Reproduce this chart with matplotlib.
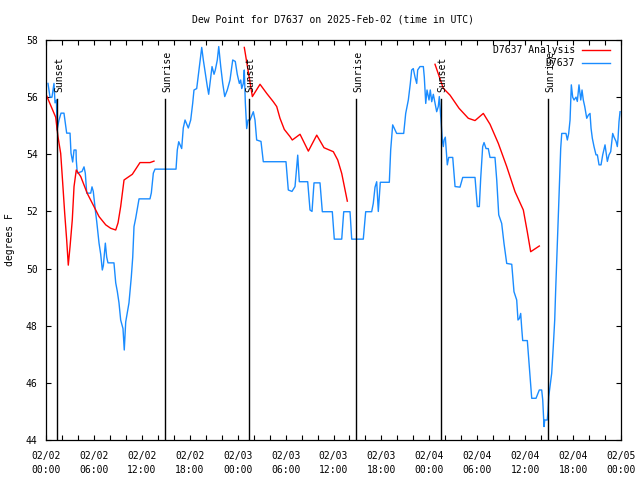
import matplotlib
matplotlib.use("Agg")
import matplotlib.pyplot as plt
from matplotlib.ticker import MultipleLocator, FixedLocator
from matplotlib.lines import Line2D

# ---- data (hours since 2025-02-02 00:00 UTC, dew point in F) ----
obs_hours = [0.25, 0.50, 0.75, 1.00, 1.13, 1.31, 1.38, 1.63, 1.88, 2.25, 2.34, 2.59, 3.01, 3.13, 3.34,
             3.51, 3.76, 3.79, 3.92, 4.51, 4.76, 4.92, 5.10, 5.60, 5.76, 5.92, 6.22, 6.35, 6.64, 6.85,
             7.05, 7.18, 7.43, 7.60, 7.76, 8.51, 8.73, 8.93, 9.14, 9.35, 9.64, 9.80, 9.98, 10.39, 10.68,
             10.86, 11.02, 11.23, 11.65, 13.02, 13.19, 13.44, 13.65, 16.28, 16.44, 16.62, 16.99, 17.19,
             17.41, 17.82, 18.12, 18.37, 18.53, 18.87, 19.20, 19.50, 19.70, 19.91, 20.20, 20.37, 20.54,
             20.79, 21.04, 21.20, 21.45, 21.63, 21.88, 22.13, 22.38, 22.70, 23.04, 23.38, 23.70, 23.95,
             24.21, 24.38, 24.51, 24.71, 24.83, 24.96, 25.13, 25.30, 25.55, 25.96, 26.17, 26.38, 26.92,
             27.21, 30.05, 30.34, 30.80, 31.18, 31.52, 31.72, 32.77, 33.06, 33.31, 33.56, 34.31, 34.60,
             35.85, 36.10, 37.03, 37.28, 38.07, 38.28, 39.73, 40.03, 40.78, 40.98, 41.20, 41.41, 41.61,
             41.86, 42.99, 43.16, 43.41, 43.91, 44.79, 45.04, 45.37, 45.62, 45.79, 45.99, 46.21, 46.42,
             46.54, 46.83, 47.25, 47.37, 47.55, 47.71, 47.96, 48.12, 48.30, 48.50, 48.92, 49.12, 49.25,
             49.46, 49.62, 49.75, 49.84, 50.00, 50.25, 50.43, 50.93, 51.22, 51.84, 52.18, 53.72, 53.93,
             54.01, 54.26, 54.43, 54.68, 54.85, 55.10, 55.38, 55.60, 56.22, 56.44, 56.69, 57.06, 57.35,
             57.69, 58.32, 58.60, 58.94, 59.10, 59.27, 59.44, 59.57, 59.69, 60.27, 60.61, 60.82, 61.36,
             61.77, 62.07, 62.20, 62.36, 62.45, 62.77, 62.86, 62.95, 63.11, 63.32, 63.52, 63.70, 63.82,
             63.95, 64.07, 64.20, 64.32, 64.45, 64.58, 65.11, 65.28, 65.45, 65.62, 65.78, 65.95, 66.12,
             66.37, 66.53, 66.74, 66.96, 67.12, 67.28, 67.46, 67.71, 67.91, 68.12, 68.25, 68.41, 68.62,
             68.87, 69.04, 69.25, 69.50, 69.71, 70.00, 70.29, 70.50, 70.71, 70.96, 71.13, 71.38, 71.54,
             71.63, 71.75, 71.88]
obs_values = [56.48, 56.00, 56.00, 56.48, 55.80, 55.90, 54.85, 55.20, 55.44, 55.44, 55.25, 54.74, 54.74,
              54.04, 53.73, 54.15, 54.15, 53.80, 53.34, 53.40, 53.56, 53.34, 52.64, 52.64, 52.86, 52.70,
              51.94, 51.65, 50.89, 50.50, 49.95, 50.10, 50.89, 50.40, 50.20, 50.20, 49.50, 49.20, 48.80,
              48.20, 47.90, 47.15, 48.13, 48.80, 49.70, 50.40, 51.47, 51.76, 52.44, 52.44, 52.65, 53.34,
              53.48, 53.48, 54.15, 54.44, 54.20, 54.92, 55.20, 54.92, 55.20, 55.79, 56.25, 56.30, 57.07,
              57.74, 57.30, 56.90, 56.37, 56.10, 56.50, 57.07, 56.80, 56.95, 57.30, 57.77, 57.07, 56.48,
              56.02, 56.25, 56.60, 57.30, 57.25, 56.80, 56.48, 56.60, 56.30, 56.48, 56.95, 55.80, 54.90,
              55.20, 55.20, 55.49, 55.20, 54.50, 54.45, 53.74, 53.74, 52.75, 52.70, 52.87, 53.97, 53.04,
              53.04, 52.05, 52.00, 53.00, 53.00, 51.99, 51.99, 51.03, 51.03, 51.99, 51.99, 51.03, 51.03,
              51.99, 51.99, 52.28, 52.85, 53.04, 52.00, 53.02, 53.02, 54.15, 55.03, 54.73, 54.73, 55.43,
              55.90, 56.48, 56.95, 57.00, 56.70, 56.48, 56.95, 57.07, 57.07, 56.70, 55.78, 56.25, 55.90,
              56.25, 55.84, 56.10, 55.49, 55.67, 56.02, 55.20, 54.50, 54.27, 54.50, 54.60, 53.63, 53.89,
              53.89, 52.87, 52.85, 53.19, 53.19, 52.46, 52.17, 52.17, 53.15, 54.27, 54.41, 54.20, 54.20,
              53.89, 53.89, 53.10, 51.88, 51.58, 50.88, 50.18, 50.15, 49.19, 48.90, 48.20, 48.25, 48.43,
              47.90, 47.48, 47.48, 46.21, 45.46, 45.46, 45.75, 45.75, 45.40, 44.47, 44.70, 44.70, 45.00,
              45.52, 45.87, 46.33, 47.27, 48.20, 49.25, 50.24, 51.23, 52.23, 53.22, 54.21, 54.73, 54.73,
              54.50, 54.73, 55.20, 56.43, 56.00, 55.90, 56.00, 55.85, 56.43, 55.90, 56.25, 55.90, 55.67,
              55.26, 55.37, 55.43, 54.91, 54.56, 54.27, 53.98, 53.98, 53.63, 53.63, 53.98, 54.33, 53.75,
              53.98, 54.09, 54.73, 54.60, 54.45, 54.27, 54.56, 55.14, 55.49]

ana1_hours = [0.00, 1.21, 1.50, 1.84, 2.09, 2.34, 2.59, 2.79, 3.01, 3.29, 3.51, 3.79, 4.35, 5.17, 6.01,
              6.64, 7.48, 8.10, 8.73, 9.02, 9.35, 9.77, 10.39, 10.81, 11.77, 13.02, 13.52]
ana1_values = [56.10, 55.30, 54.62, 54.03, 53.00, 51.94, 51.00, 50.12, 50.77, 51.70, 52.87, 53.45, 53.22,
               52.63, 52.17, 51.82, 51.53, 51.41, 51.35, 51.60, 52.17, 53.10, 53.22, 53.30, 53.71, 53.71,
               53.76]
ana2_hours = [24.83, 24.92, 25.84, 26.80, 27.64, 28.46, 28.89, 29.30, 29.84, 30.55, 30.84, 31.81, 32.85,
              33.90, 34.81, 35.98, 36.53, 37.03, 37.73]
ana2_values = [57.74, 57.59, 56.02, 56.45, 56.13, 55.84, 55.67, 55.26, 54.87, 54.62, 54.50, 54.70, 54.11,
               54.67, 54.23, 54.09, 53.80, 53.33, 52.36]
ana3_hours = [48.71, 49.75, 50.59, 51.72, 52.88, 53.72, 54.76, 55.60, 56.64, 57.69, 58.73, 59.77, 60.27,
              60.69, 61.23, 61.77]
ana3_values = [57.15, 56.31, 56.07, 55.61, 55.26, 55.18, 55.43, 55.05, 54.38, 53.57, 52.69, 52.05, 51.28,
               50.59, 50.69, 50.79]

sun_hours = [1.41, 14.94, 25.38, 38.86, 49.42, 62.90]
sun_labels = ["Sunset", "Sunrise", "Sunset", "Sunrise", "Sunset", "Sunrise"]

xtick_hours = [0, 6, 12, 18, 24, 30, 36, 42, 48, 54, 60, 66, 72]
xtick_labels = ["02/02\n00:00", "02/02\n06:00", "02/02\n12:00", "02/02\n18:00",
                "02/03\n00:00", "02/03\n06:00", "02/03\n12:00", "02/03\n18:00",
                "02/04\n00:00", "02/04\n06:00", "02/04\n12:00", "02/04\n18:00",
                "02/05\n00:00"]
ytick_values = [44, 46, 48, 50, 52, 54, 56, 58]

FONT = "DejaVu Sans Mono"
FS = 7
BLUE = "#1a8cff"
RED = "#ff0000"

plt.rcParams["font.family"] = FONT
fig = plt.figure(figsize=(6.4, 4.8), dpi=100)
ax = fig.add_axes([46 / 640, 40 / 480, 575 / 640, 400 / 480])

ax.plot(obs_hours, obs_values, color=BLUE, lw=1.0, label="D7637")
ax.plot(ana1_hours, ana1_values, color=RED, lw=1.0, label="D7637 Analysis")
ax.plot(ana2_hours, ana2_values, color=RED, lw=1.0)
ax.plot(ana3_hours, ana3_values, color=RED, lw=1.0)

for h, lab in zip(sun_hours, sun_labels):
    ax.plot([h, h], [44, 55.93], color="black", lw=1.0)
    ax.annotate(lab, xy=(h, 56.18), xytext=(1.5, 0), textcoords="offset points",
                rotation=90, ha="center", va="bottom", fontsize=FS, family=FONT)

ax.set_xlim(0, 72)
ax.set_ylim(44, 58)
ax.xaxis.set_major_locator(FixedLocator(xtick_hours))
ax.set_xticklabels(xtick_labels, linespacing=1.45)
ax.xaxis.set_minor_locator(MultipleLocator(2))
ax.set_yticks(ytick_values)
ax.set_yticklabels([str(v) for v in ytick_values])
ax.tick_params(which="both", direction="in", length=3.5, width=0.8,
               top=True, right=True, labelsize=FS)
ax.tick_params(axis="x", which="major", pad=8)
ax.tick_params(axis="y", which="major", pad=6)
for sp in ax.spines.values():
    sp.set_linewidth(0.9)

ax.set_ylabel("degrees F", fontsize=FS)
ax.yaxis.set_label_coords(-31 / 575, 0.5)
fig.text(333 / 640, 1 - 19 / 480, "Dew Point for D7637 on 2025-Feb-02 (time in UTC)",
         ha="center", va="center", fontsize=FS)

# legend (top right, gnuplot style: text then sample line)
for ytop, lab, col in [(50, "D7637 Analysis", RED), (62.5, "D7637", BLUE)]:
    yf = 1 - ytop / 480
    fig.text(575 / 640, yf, lab, ha="right", va="center", fontsize=FS)
    fig.add_artist(Line2D([582 / 640, 610 / 640], [yf, yf], color=col, lw=1.0))

fig.savefig("out.png", dpi=100)
